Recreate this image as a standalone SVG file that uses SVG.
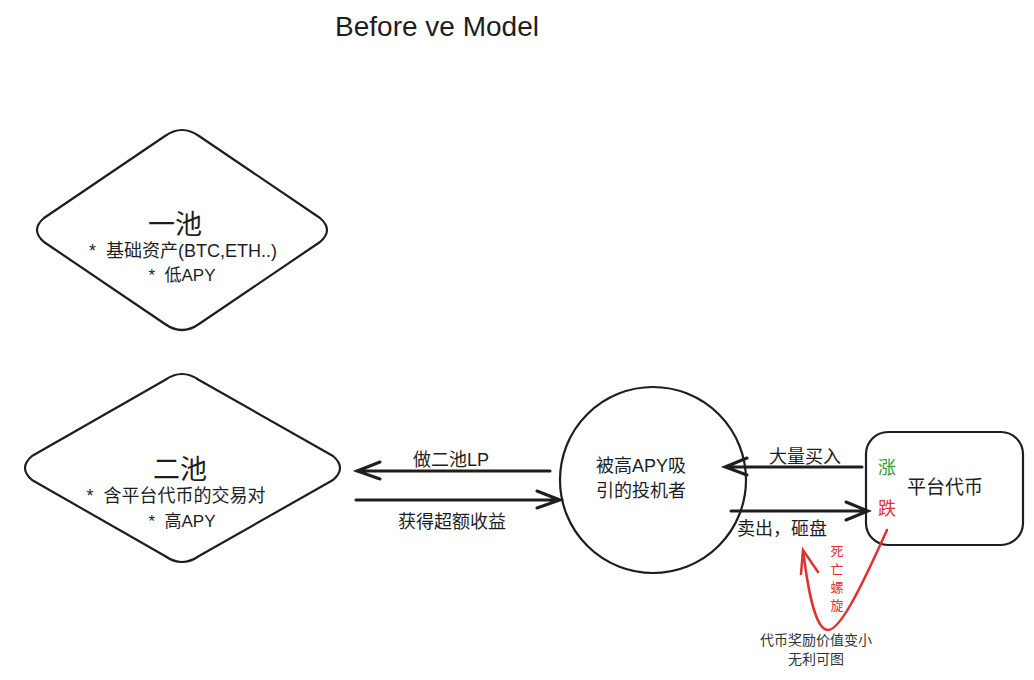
<svg xmlns="http://www.w3.org/2000/svg" width="1034" height="680" viewBox="0 0 1034 680">
<style>
.s{fill:#fff;stroke:#1e1e1e;stroke-width:2.2;stroke-linejoin:round}
.c{stroke:#1e1e1e;stroke-width:3;fill:none;stroke-linecap:round}
text{font-family:"Liberation Sans","Noto Sans CJK SC",sans-serif;fill:#1e1e1e;text-anchor:middle}
</style>
<rect width="1034" height="680" fill="#fff"/>
<text x="437" y="36" font-size="28">Before ve Model</text>
<g id="pool1">
<path class="s" d="M165,136 Q182,124 199,136 L320,218 Q334,230 320,242 L199,324 Q182,336 165,324 L44,242 Q30,230 44,218 Z"/>
<text x="175" y="234" font-size="27">一池</text>
<text x="183" y="257" font-size="18" xml:space="preserve">*  基础资产(BTC,ETH..)</text>
<text x="182" y="281" font-size="17" xml:space="preserve">*  低APY</text>
</g>
<g id="pool2">
<path class="s" d="M165,380 Q182,368 199,380 L333,456 Q347,468 333,480 L199,556 Q182,568 165,556 L32,480 Q18,468 32,456 Z"/>
<text x="180" y="479" font-size="27">二池</text>
<text x="176" y="502" font-size="18" xml:space="preserve">*  含平台代币的交易对</text>
<text x="182" y="527" font-size="17" xml:space="preserve">*  高APY</text>
</g>
<g id="speculator">
<circle class="s" cx="653" cy="480" r="93"/>
<text x="641" y="472" font-size="18">被高APY吸</text>
<text x="641" y="497" font-size="18">引的投机者</text>
</g>
<g id="token">
<rect class="s" x="866" y="432" width="157" height="113" rx="22"/>
<text x="945" y="494" font-size="19">平台代币</text>
<text x="887" y="474" font-size="18" style="fill:#2f9e44">涨</text>
<text x="887" y="515" font-size="18" style="fill:#e03131">跌</text>
</g>
<g id="connectors">
<path class="c" d="M550,471 L357,471 M380,462 L357,471 L380,479"/>
<path class="c" d="M356,500 L560,500 M537,491 L560,500 L537,508"/>
<path class="c" d="M862,467 L725,467 M747,458 L725,467 L747,475"/>
<path class="c" d="M731,511 L868,511 M846,502 L868,511 L846,520"/>
<path d="M887,530 C860,590 840,630 828,630 C815,630 808,590 803,550 M801,574 L803,550 L818,572" stroke="#e03131" stroke-width="2.5" fill="none" stroke-linecap="round"/>
<text x="451" y="466" font-size="18">做二池LP</text>
<text x="452" y="528" font-size="18">获得超额收益</text>
<text x="805" y="463" font-size="18">大量买入</text>
<text x="782" y="535" font-size="18">卖出，砸盘</text>
<text x="837" y="556" font-size="13" style="fill:#e03131">死</text>
<text x="837" y="574" font-size="13" style="fill:#e03131">亡</text>
<text x="837" y="592" font-size="13" style="fill:#e03131">螺</text>
<text x="837" y="610" font-size="13" style="fill:#e03131">旋</text>
<text x="816" y="645" font-size="14" style="fill:#333">代币奖励价值变小</text>
<text x="816" y="664" font-size="14" style="fill:#333">无利可图</text>
</g>
</svg>
